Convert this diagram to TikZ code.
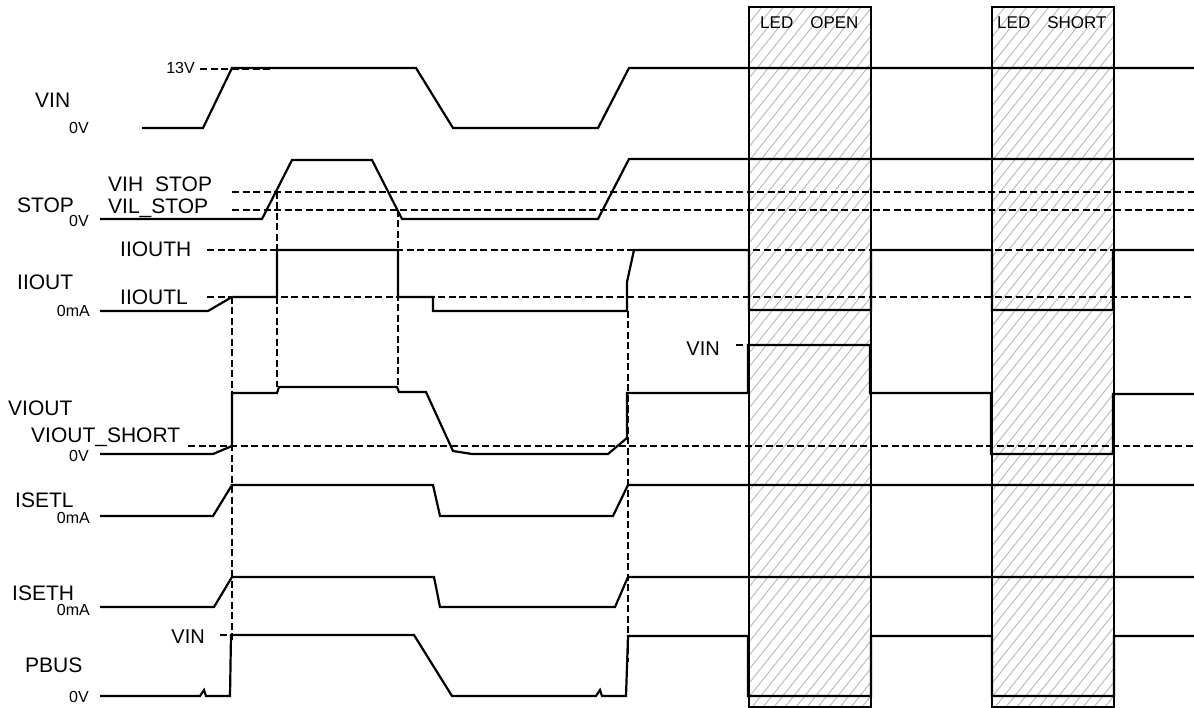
\documentclass[tikz,border=0pt]{standalone}
\usepackage{fontspec}
\setmainfont{Liberation Sans}
\begin{document}
\begin{tikzpicture}[x=1pt,y=-1pt,
  sig/.style={line width=2.2pt, line join=miter},
  thr/.style={line width=1.9pt, dash pattern=on 7pt off 3.5pt},
  hatch/.style={gray!55, line width=0.9pt},
  ledbox/.style={line width=1.3pt},
  big/.style={font=\fontsize{21}{24}\selectfont, inner sep=0pt, anchor=base west},
  small/.style={font=\fontsize{16}{18}\selectfont, inner sep=0pt, anchor=base east},
  mid/.style={font=\fontsize{20}{24}\selectfont, inner sep=0pt, anchor=base east},
  boxlbl/.style={font=\fontsize{17}{20}\selectfont, inner sep=0pt, anchor=base west}]
\useasboundingbox (0,0) rectangle (1194,708);

% hatched LED boxes
\foreach \bx in {749,992} {
  \begin{scope}
    \clip (\bx,7) rectangle (\bx+122,707);
    \foreach \i in {-580,-569,...,130}
      \draw[hatch] (\bx+\i,707) -- (\bx+\i+560,7);
  \end{scope}
  \draw[ledbox] (\bx,7) rectangle (\bx+122,707);
}
\node[boxlbl] (ledopen) at (760,29) {LED\hspace{17pt}OPEN};
\node[boxlbl] (ledshort) at (997,29) {LED\hspace{17pt}SHORT};

% threshold lines
\draw[thr] (200,69) -- (270,69);
\draw[thr] (232,192) -- (1194,192);
\draw[thr] (232,210) -- (1194,210);
\draw[thr] (207,250) -- (1194,250);
\draw[thr] (207,297) -- (1194,297);
\draw[thr] (188,446) -- (1194,446);
\draw[thr] (736,345) -- (793,345);
\draw[thr] (220,635) -- (284,635);

% vertical dashed lines
\draw[thr] (232,297) -- (232,642);
\draw[thr] (277,192) -- (277,387);
\draw[thr] (398,210) -- (398,390);
\draw[thr] (628,311) -- (628,662);

% signals
\draw[sig] (142,128) -- (203,128) -- (232,68) -- (416,68) -- (453,128) -- (598,128) -- (629,68) -- (1194,68);
\draw[sig] (100,219) -- (262,219) -- (292,160) -- (372,160) -- (402,219) -- (598,219) -- (629,159) -- (1194,159);
\draw[sig] (100,311) -- (208,311) -- (232,297) -- (277,297) -- (277,250) -- (398,250) -- (398,297) -- (433,297) -- (433,311) -- (627,311) -- (627,282) -- (634,250) -- (749,250) -- (749,310) -- (871,310) -- (871,250) -- (992,250) -- (992,310) -- (1113,310) -- (1113,250) -- (1194,250);
\draw[sig] (100,454) -- (213,454) -- (232,446) -- (232,393) -- (277,393) -- (279,387) -- (397,387) -- (399,392) -- (426,392) -- (453,451) -- (472,454) -- (608,454) -- (627,438) -- (627,393) -- (748,393) -- (748,345) -- (870,345) -- (870,393) -- (991,393) -- (991,454) -- (1113,454) -- (1113,394) -- (1194,394);
\draw[sig] (100,516) -- (213,516) -- (232,485) -- (433,485) -- (440,516) -- (613,516) -- (628,485) -- (1194,485);
\draw[sig] (100,607) -- (214,607) -- (232,577) -- (434,577) -- (440,607) -- (615,607) -- (628,577) -- (1194,577);
\draw[sig] (100,696) -- (200,696) -- (204,690) -- (206,696) -- (230,696) -- (231,635) -- (414,635) -- (452,696) -- (596,696) -- (600,690) -- (602,696) -- (626,696) -- (628,636) -- (748,636) -- (748,696) -- (871,696) -- (871,636) -- (992,636) -- (992,696) -- (1114,696) -- (1114,636) -- (1194,636);

% labels
\node[big] (vin) at (35,108) {VIN};
\node[small] (vin0) at (89,134) {0V};
\node[small] (v13) at (195,74) {13V};
\node[big] (stop) at (17,213) {STOP};
\node[small] (stop0) at (89,227) {0V};
\node[big] (vih) at (108,192) {VIH\hspace{12pt}STOP};
\node[big] (vil) at (108,214) {VIL\_STOP};
\node[big] (iiout) at (17,290) {IIOUT};
\node[big] (iiouth) at (120,257) {IIOUTH};
\node[big] (iioutl) at (120,305) {IIOUTL};
\node[small] (iiout0) at (90,317) {0mA};
\node[big] (viout) at (8,415) {VIOUT};
\node[big] (vshort) at (31,442) {VIOUT\_SHORT};
\node[small] (viout0) at (89,461) {0V};
\node[mid] (vinv) at (720,356) {VIN};
\node[big] (isetl) at (15,507) {ISETL};
\node[small] (isetl0) at (90,523) {0mA};
\node[big] (iseth) at (12,600) {ISETH};
\node[small] (iseth0) at (90,615) {0mA};
\node[big] (pbus) at (25,672) {PBUS};
\node[small] (pbus0) at (89,702) {0V};
\node[mid] (vinp) at (205,643) {VIN};
\end{tikzpicture}
\end{document}
